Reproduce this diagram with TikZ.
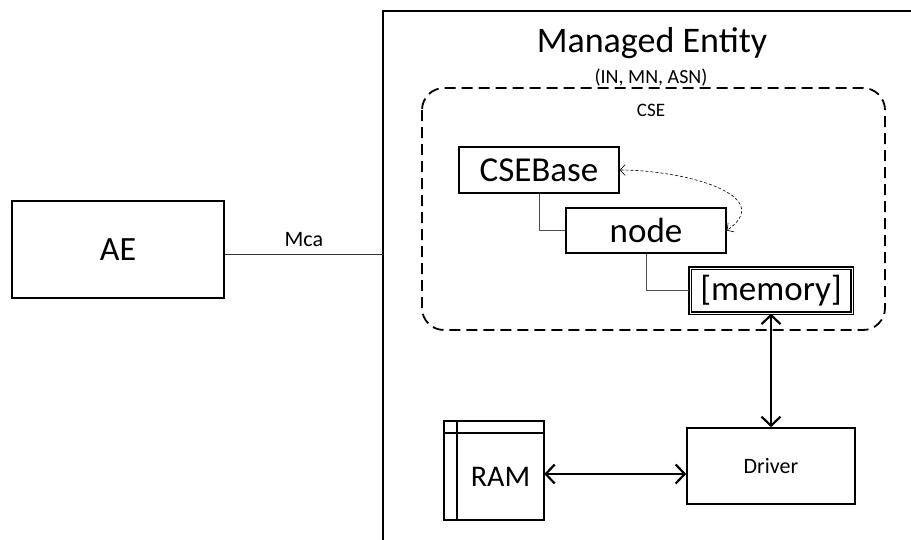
\documentclass[tikz,border=0pt]{standalone}
\usepackage{fontspec}
\setmainfont{Carlito}
\usetikzlibrary{arrows.meta}

\begin{document}
\begin{tikzpicture}[x=1pt, y=-1pt,
    box/.style={draw, line width=1.6pt, inner sep=0pt},
    big/.style={font=\fontsize{35}{40}\selectfont},
    tree/.style={draw=black!70, line width=0.8pt},
    bus/.style={line width=2.2pt, {Straight Barb[length=9pt,width=19pt]}-{Straight Barb[length=9pt,width=19pt]}},
    link/.style={densely dashed, line width=0.6pt, {Straight Barb[length=5pt,width=11pt]}-{Straight Barb[length=5pt,width=11pt]}}]

    \useasboundingbox (0,0) rectangle (911,539);

    % Managed Entity frame, cut by the page edge
    \draw[line width=1.8pt] (915,11) -| (383,545);
    \node[font=\fontsize{36}{40}\selectfont] (meTitle) at (652,43) {Managed Entity};
    \node[font=\fontsize{20}{24}\selectfont] (meKinds) at (651,78) {(IN, MN, ASN)};

    % CSE with its resource tree
    \draw[line width=1.8pt, dash pattern=on 11pt off 6pt, rounded corners=22pt] (422,88) rectangle (885,330);
    \node[font=\fontsize{19}{22}\selectfont] (cseTitle) at (651,110) {CSE};
    \node[box, big, minimum width=160pt, minimum height=46pt] (cseBase) at (539,170) {CSEBase};
    \node[box, big, minimum width=160pt, minimum height=45pt] (nodeRes) at (646,230.5) {node};
    \node[box, big, double, line width=1.2pt, double distance=0.8pt, minimum width=162pt, minimum height=45pt] (memory) at (771,290.5) {[memory]};
    \draw[tree] (cseBase.south) |- (nodeRes.west);
    \draw[tree] (nodeRes.south) |- (memory.west);
    \draw[link] (cseBase.east) to[out=0, in=35, looseness=1.3] (nodeRes.east);

    % AE and the Mca reference point
    \node[box, font=\fontsize{34}{40}\selectfont, minimum width=212pt, minimum height=97pt] (ae) at (118,249.5) {AE};
    \coordinate (mcaEnd) at (383,254);
    \draw[draw=black!80, line width=0.8pt] (ae.east |- mcaEnd) -- node[above=4pt, font=\fontsize{22}{26}\selectfont] (mcaLabel) {Mca} (mcaEnd);

    % Driver and RAM
    \node[box, font=\fontsize{22}{26}\selectfont, minimum width=168pt, minimum height=76pt] (driver) at (771,466) {Driver};
    \node[inner sep=0pt, minimum width=87pt, minimum height=87pt, font=\fontsize{30}{34}\selectfont] (ram) at (500.5,476.5) {RAM};
    \draw[line width=1.6pt] ([xshift=-13pt]ram.south west) rectangle ([yshift=12pt]ram.north east);
    \draw[line width=1.6pt] ([xshift=-13pt]ram.north west) -- (ram.north east);
    \draw[line width=1.6pt] ([yshift=12pt]ram.north west) -- (ram.south west);
    \draw[bus] (memory.south) -- (driver.north);
    \draw[bus] (ram.east |- 0,474) -- (driver.west |- 0,474);

\end{tikzpicture}
\end{document}
